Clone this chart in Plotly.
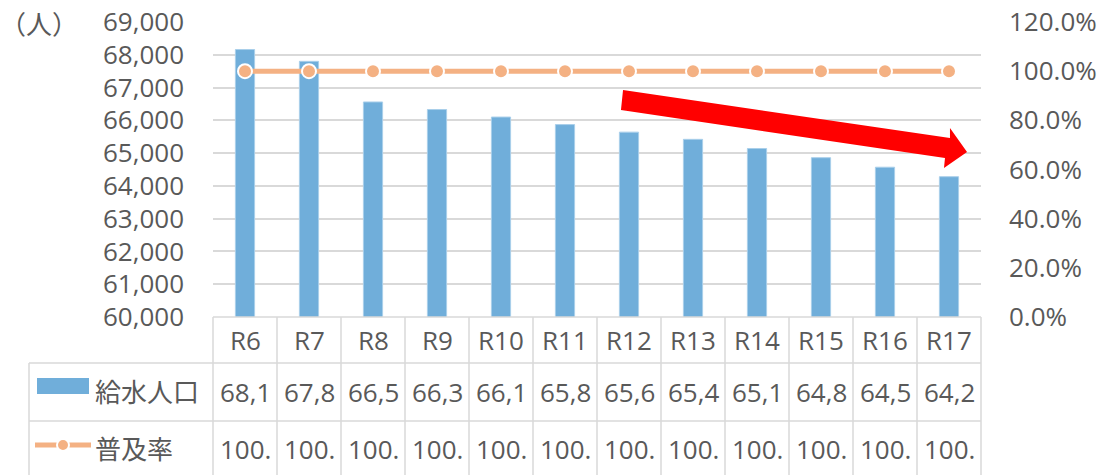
import plotly.graph_objects as go

# ---- data ----
categories = ["R6", "R7", "R8", "R9", "R10", "R11", "R12", "R13", "R14", "R15", "R16", "R17"]
population = [68160, 67800, 66560, 66330, 66100, 65870, 65640, 65420, 65140, 64860, 64570, 64280]
coverage = [1.0] * 12
series_names = ["給水人口", "普及率"]
y_unit_label = "（人）"

# ---- style ----
FONT = "Open Sans, Noto Sans CJK JP, sans-serif"
TXT = "#595959"
GRID = "#D9D9D9"
BLUE = "#70AEDA"
ORANGE = "#F4B183"
FS = 26

W, H = 1103, 475
L, R, T, B = 213, 981, 22, 317  # plot area in pixels
PW, PH = R - L, B - T


def px(x):
    return (x - L) / PW


def py(y):
    return (B - y) / PH


fig = go.Figure()
fig.add_trace(go.Bar(
    x=categories, y=population, name=series_names[0], width=0.3,
    marker=dict(color=BLUE, line=dict(color="#A9CFEA", width=1)),
    showlegend=False, yaxis="y",
))
fig.add_trace(go.Scatter(
    x=categories, y=coverage, name=series_names[1], mode="lines+markers",
    line=dict(color=ORANGE, width=5),
    marker=dict(color=ORANGE, size=14, line=dict(color="white", width=2)),
    showlegend=False, yaxis="y2",
))

shapes = []
annotations = []
line_style = dict(color=GRID, width=1.5)


def text_ann(x, xref, y, text, xanchor="center", size=FS):
    return dict(x=x, xref=xref, y=y, yref="paper", text=text, showarrow=False,
                xanchor=xanchor, yanchor="middle",
                font=dict(size=size, color=TXT, family=FONT))


# table horizontal lines
row_lines = [363, 421]
for yy in row_lines:
    shapes.append(dict(type="line", xref="paper", yref="paper", x0=px(29), x1=px(R),
                       y0=py(yy), y1=py(yy), line=line_style, layer="above"))
shapes.append(dict(type="line", xref="paper", yref="paper", x0=px(L), x1=px(R),
                   y0=py(B), y1=py(B), line=line_style, layer="above"))
# vertical lines
for i in range(len(categories) + 1):
    xx = L + i * PW / len(categories)
    shapes.append(dict(type="line", xref="paper", yref="paper", x0=px(xx), x1=px(xx),
                       y0=py(B), y1=py(H + 5), line=line_style, layer="above"))
shapes.append(dict(type="line", xref="paper", yref="paper", x0=px(29), x1=px(29),
                   y0=py(363), y1=py(H + 5), line=line_style, layer="above"))

# table texts
row_centers = [340, 392, 449]
for c, v, p in zip(categories, population, coverage):
    annotations.append(text_ann(c, "x", py(row_centers[0]), c))
    annotations.append(text_ann(c, "x", py(row_centers[1]), f"{v:,}"[:4]))
    annotations.append(text_ann(c, "x", py(row_centers[2]), f"{p * 100:.1f}%"[:4]))

# legend keys in table
shapes.append(dict(type="rect", xref="paper", yref="paper", x0=px(37), x1=px(89),
                   y0=py(394), y1=py(378), fillcolor=BLUE, line=dict(width=0)))
shapes.append(dict(type="line", xref="paper", yref="paper", x0=px(35), x1=px(91),
                   y0=py(445), y1=py(445), line=dict(color=ORANGE, width=5)))
shapes.append(dict(type="circle", xref="paper", yref="paper", x0=px(57), x1=px(69),
                   y0=py(451), y1=py(439), fillcolor=ORANGE, line=dict(color="white", width=2)))
for name, yc in zip(series_names, row_centers[1:]):
    annotations.append(text_ann(px(93), "paper", py(yc), name, xanchor="left"))

# unit label
annotations.append(text_ann(px(-2), "paper", py(24), y_unit_label, xanchor="left"))

# red trend arrow (annotation shape)
arrow_px = [(623, 90), (950, 138), (950, 128), (967, 152), (944, 168), (945, 158), (621, 110)]
path = "M " + " L ".join(f"{px(a):.4f},{py(b):.4f}" for a, b in arrow_px) + " Z"
shapes.append(dict(type="path", xref="paper", yref="paper", path=path,
                   fillcolor="#FF0000", line=dict(width=0), layer="above"))

fig.update_layout(
    width=W, height=H,
    margin=dict(l=L, r=W - R, t=T, b=H - B, autoexpand=False),
    plot_bgcolor="white", paper_bgcolor="white",
    bargap=0.7,
    font=dict(family=FONT, color=TXT, size=FS),
    xaxis=dict(range=[-0.5, len(categories) - 0.5], showticklabels=False, showgrid=False,
               zeroline=False, ticks=""),
    yaxis=dict(range=[60000, 69000], dtick=1000, tickformat=",d", showgrid=True,
               gridcolor=GRID, gridwidth=1.5, zeroline=False, ticks="",
               ticklabelstandoff=28, tickfont=dict(size=FS, color=TXT)),
    yaxis2=dict(range=[0, 1.2], dtick=0.2, tickformat=".1%", overlaying="y", side="right",
                showgrid=False, zeroline=False, ticks="", ticklabelstandoff=27,
                tickfont=dict(size=FS, color=TXT)),
    shapes=shapes, annotations=annotations,
)

fig.write_html("out.html", config={"displayModeBar": False},
               post_script="document.body.style.margin='0';document.body.style.overflow='hidden';")
